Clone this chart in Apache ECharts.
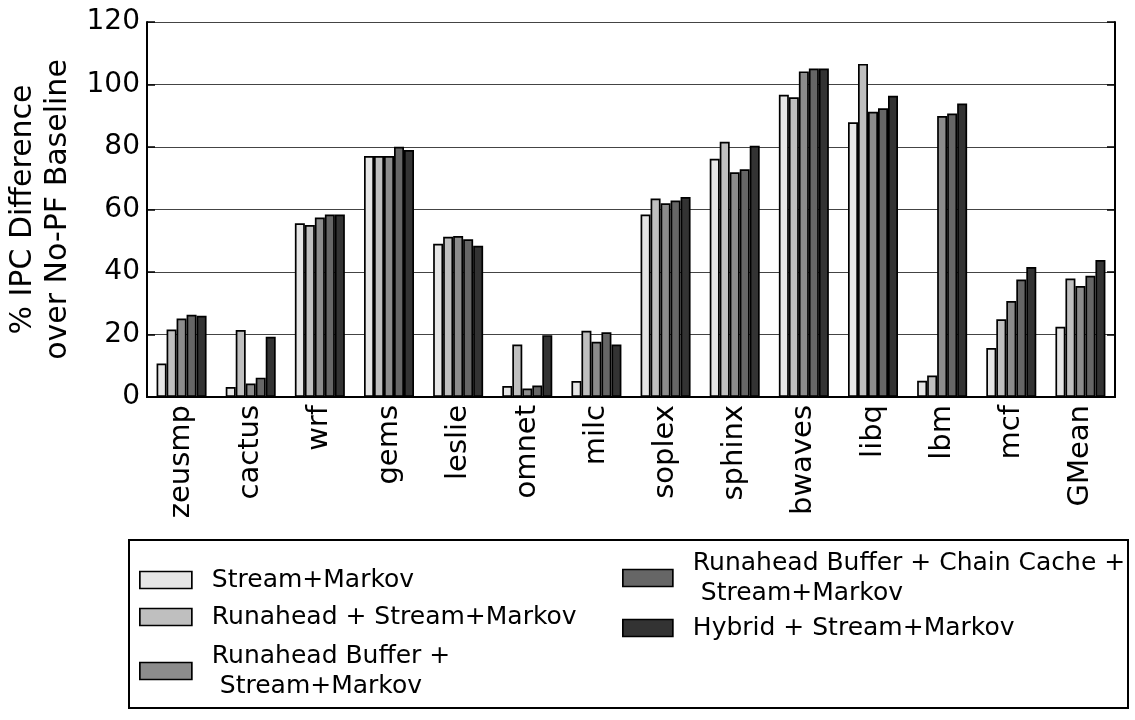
<!DOCTYPE html>
<html>
<head>
<meta charset="utf-8">
<title>IPC difference</title>
<script src="https://cdn.jsdelivr.net/npm/echarts@6/dist/echarts.min.js"></script>
<style>
  html, body { margin: 0; padding: 0; background: #fff; }
  #chart { width: 1135px; height: 720px; }
</style>
</head>
<body>
<div id="chart"></div>
<script type="text/javascript">
var categories = ['zeusmp', 'cactus', 'wrf', 'gems', 'leslie', 'omnet', 'milc', 'soplex', 'sphinx', 'bwaves', 'libq', 'lbm', 'mcf', 'GMean'];
var yTicks = [0, 20, 40, 60, 80, 100, 120];

var streamMarkov = [10.7, 3.2, 55.6, 77.1, 49.0, 3.5, 5.1, 58.4, 76.2, 96.7, 87.9, 5.2, 15.7, 22.5];
var runaheadSM   = [21.6, 21.4, 55.0, 77.1, 51.3, 16.8, 21.2, 63.5, 81.7, 95.9, 106.6, 6.9, 24.9, 37.9];
var bufferSM     = [25.1, 4.3, 57.4, 77.1, 51.5, 2.7, 17.7, 62.0, 71.9, 104.2, 91.3, 89.9, 30.7, 35.5];
var chainSM      = [26.3, 6.2, 58.4, 80.1, 50.5, 3.7, 20.7, 62.9, 72.9, 105.1, 92.4, 90.7, 37.6, 38.8];
var hybridSM     = [26.0, 19.3, 58.4, 79.0, 48.4, 19.8, 16.8, 64.0, 80.4, 105.1, 96.4, 93.9, 41.6, 43.8];

var names = [
	'Stream+Markov',
	'Runahead + Stream+Markov',
	'Runahead Buffer +\n Stream+Markov',
	'Runahead Buffer + Chain Cache +\n Stream+Markov',
	'Hybrid + Stream+Markov'
];
var colors = ['#e6e6e6', '#bfbfbf', '#8c8c8c', '#666666', '#333333'];
var values = [streamMarkov, runaheadSM, bufferSM, chainSM, hybridSM];

var font = 'DejaVu Sans';

function bar(i) {
	return {
		name: names[i],
		type: 'bar',
		xAxisIndex: 0,
		yAxisIndex: 0,
		barWidth: 10,
		barGap: '0%',
		data: values[i],
		itemStyle: { color: colors[i], borderColor: '#000', borderWidth: 1.7 },
		emphasis: { disabled: true }
	};
}

// one legend per entry, the layout in the picture is not a plain grid
var legendPos = [
	{ left: 139, top: 565, w: 52 },
	{ left: 139, top: 602, w: 52 },
	{ left: 139, top: 641, w: 52 },
	{ left: 622, top: 548, w: 50 },
	{ left: 622, top: 613, w: 50 }
];
var legends = legendPos.map(function (p, i) {
	return {
		data: [names[i]],
		left: p.left,
		top: p.top,
		padding: 0,
		itemWidth: p.w,
		itemHeight: 17,
		itemGap: 0,
		icon: 'rect',
		selectedMode: false,
		itemStyle: { borderColor: '#000', borderWidth: 1.7 },
		textStyle: { fontFamily: font, fontSize: 25, color: '#000', lineHeight: 30, padding: [0, 0, 0, 15] }
	};
});

var myChart = echarts.init(document.getElementById('chart'));
var option = {
	animation: false,
	backgroundColor: '#fff',
	grid: { left: 147, right: 20, top: 22, bottom: 323, outerBoundsMode: 'none' },
	legend: legends,
	xAxis: [
		{
			type: 'category',
			data: categories,
			position: 'bottom',
			axisLine: { lineStyle: { color: '#000', width: 2 } },
			axisTick: { show: false },
			axisLabel: { rotate: 90, fontFamily: font, fontSize: 29, color: '#000', margin: 8 }
		},
		{
			type: 'category',
			data: categories,
			position: 'top',
			axisLine: { lineStyle: { color: '#000', width: 2 } },
			axisTick: { inside: true, alignWithLabel: true, length: 8, lineStyle: { color: '#000', width: 1.5 } },
			axisLabel: { show: false }
		}
	],
	yAxis: [
		{
			type: 'value',
			min: yTicks[0],
			max: yTicks[yTicks.length - 1],
			interval: 20,
			name: '% IPC Difference\nover No-PF Baseline',
			nameLocation: 'middle',
			nameGap: 67,
			nameTextStyle: { fontFamily: font, fontSize: 30, color: '#000', lineHeight: 35 },
			axisLine: { show: true, lineStyle: { color: '#000', width: 2 } },
			axisTick: { show: true, inside: true, length: 8, lineStyle: { color: '#000', width: 1.5 } },
			axisLabel: { fontFamily: font, fontSize: 28, color: '#000', margin: 7 },
			splitLine: { show: true, lineStyle: { color: '#444', width: 1 } }
		},
		{
			type: 'value',
			position: 'right',
			min: yTicks[0],
			max: yTicks[yTicks.length - 1],
			interval: 20,
			axisLine: { show: true, lineStyle: { color: '#000', width: 2 } },
			axisTick: { show: true, inside: true, length: 8, lineStyle: { color: '#000', width: 1.5 } },
			axisLabel: { show: false },
			splitLine: { show: false }
		}
	],
	graphic: [
		{
			type: 'rect',
			shape: { x: 129, y: 540, width: 999, height: 168 },
			style: { fill: 'none', stroke: '#000', lineWidth: 2 }
		}
	],
	series: [bar(0), bar(1), bar(2), bar(3), bar(4)]
};

myChart.setOption(option);
</script>
</body>
</html>
